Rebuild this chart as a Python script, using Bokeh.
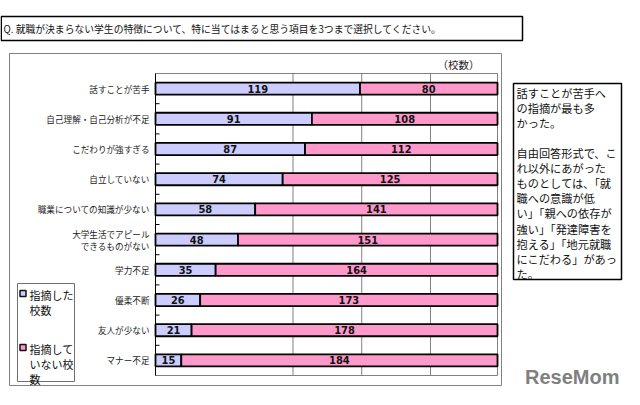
from bokeh.plotting import figure
from bokeh.models import Range1d, Label, ColumnDataSource
from bokeh.core.properties import value
from bokeh.embed import file_html
from bokeh.resources import INLINE

# ---- data ----
categories = ["話すことが苦手", "自己理解・自己分析が不足", "こだわりが強すぎる", "自立していない",
              "職業についての知識が少ない", "大学生活でアピール\nできるものがない", "学力不足",
              "優柔不断", "友人が少ない", "マナー不足"]
pointed = [119, 91, 87, 74, 58, 48, 35, 26, 21, 15]
not_pointed = [80, 108, 112, 125, 141, 151, 164, 173, 178, 184]
grid_ticks = [80, 120, 160]
series_names = ["指摘した\n校数", "指摘して\nいない校\n数"]
title_text = "Q. 就職が決まらない学生の特徴について、特に当てはまると思う項目を3つまで選択してください。"
unit_text = "（校数）"
note_paragraphs = ["話すことが苦手へ\nの指摘が最も多\nかった。",
                   "自由回答形式で、こ\nれ以外にあがった\n"
                   "ものとしては、「就\n職への意識が低\nい」「親への依存が\n強い」「発達障害を\n"
                   "抱える」「地元就職\nにこだわる」があっ\nた。"]
colors = ["#CCCCFF", "#FF99CC"]

JP = "Noto Sans CJK JP"
W, H = 624, 389

n = len(categories)
ypos = [i + 0.5 for i in range(n)]
bounds = [i for i in range(1, n)]
totals = [a + b for a, b in zip(pointed, not_pointed)]
xmax = max(totals)

# page canvas: data units == pixels (y downwards)
p = figure(width=W, height=H, output_backend="svg", toolbar_location=None,
           x_range=Range1d(0, W), y_range=Range1d(H, 0),
           x_axis_type=None, y_axis_type=None, min_border=0)
p.outline_line_color = None
p.background_fill_color = "white"
p.border_fill_color = "white"

# plot area with its own scales
sub = p.subplot(x_source=Range1d(0, xmax), y_source=Range1d(0, n),
                x_target=Range1d(155, 497), y_target=Range1d(73, 375))

# frame + gridlines
sub.quad(left=[0], right=[xmax], top=[0], bottom=[n], fill_color="white",
         line_color="#808080", line_width=1)
sub.segment(x0=grid_ticks, x1=grid_ticks, y0=[0] * len(grid_ticks), y1=[n] * len(grid_ticks),
            line_color="#808080", line_width=1)
# left axis line and boundary ticks
sub.segment(x0=[0], x1=[0], y0=[0], y1=[n], line_color="black", line_width=1)
sub.ray(x=[0] * len(bounds), y=bounds, length=4, length_units="screen", angle=0,
        line_color="black", line_width=1)

src = ColumnDataSource(dict(y=ypos, a0=[0] * n, a1=pointed, b1=totals, cat=categories,
                            pa=[str(v) for v in pointed], pb=[str(v) for v in not_pointed],
                            ma=[v / 2 for v in pointed],
                            mb=[a + b / 2 for a, b in zip(pointed, not_pointed)]))
sub.hbar(y="y", left="a0", right="a1", height=0.4, source=src,
         fill_color=colors[0], line_color="black", line_width=1.8)
sub.hbar(y="y", left="a1", right="b1", height=0.4, source=src,
         fill_color=colors[1], line_color="black", line_width=1.8)
numfont = value("Liberation Sans Narrow, DejaVu Sans Condensed, Liberation Sans")
for xcol, tcol in (("ma", "pa"), ("mb", "pb")):
    sub.text(x=xcol, y="y", text=tcol, source=src, text_align="center", text_baseline="middle",
             text_font=numfont, text_font_style="bold", text_font_size="11px",
             text_color="#111111")
# category labels
sub.text(x="a0", y="y", text="cat", source=src, x_offset=-6, text_align="right",
         text_baseline="middle", text_font=value(JP), text_font_size="8.6px",
         text_line_height=1.0, text_color="#222222")


def box(l, t, r, b, color, width, fill=None):
    p.quad(left=[l], right=[r], top=[t], bottom=[b], fill_color=fill,
           fill_alpha=1 if fill else 0, line_color=color, line_width=width)


def label(x, y, text, size, **kw):
    p.add_layout(Label(x=x, y=y, text=text,
                       text_font=kw.pop("font", JP), text_font_size=size,
                       text_baseline=kw.pop("baseline", "top"), **kw))


# title box
box(0.75, 16, 522, 40, "black", 1.5)
label(3, 28, title_text, "9.8px", baseline="middle", text_color="#111111")
# chart frame
box(9, 53, 501, 385, "#808080", 1)
label(437, 64, unit_text, "10.5px", baseline="middle", text_color="#222222")
# legend
box(17, 283, 74, 381, "#707070", 1)
for i, (nm, c) in enumerate(zip(series_names, colors)):
    top = 286 + i * 54
    box(19.5, top + 4, 25.5, top + 10, "#111111", 1.5, fill=c)
    label(29, top, nm, "11px", text_line_height=0.95, text_color="#111111")
# note box
box(513, 83, 621, 279, "black", 1.5)
for i, para in enumerate(note_paragraphs):
    label(516, 84 + i * 60, para, "11.2px", text_line_height=0.95, text_color="#111111")
# watermark
label(619, 365, "ReseMom", "20px", font="Liberation Sans", text_font_style="bold",
      text_align="right", text_color="#808080")

open("out.html", "w").write(file_html(p, INLINE))
